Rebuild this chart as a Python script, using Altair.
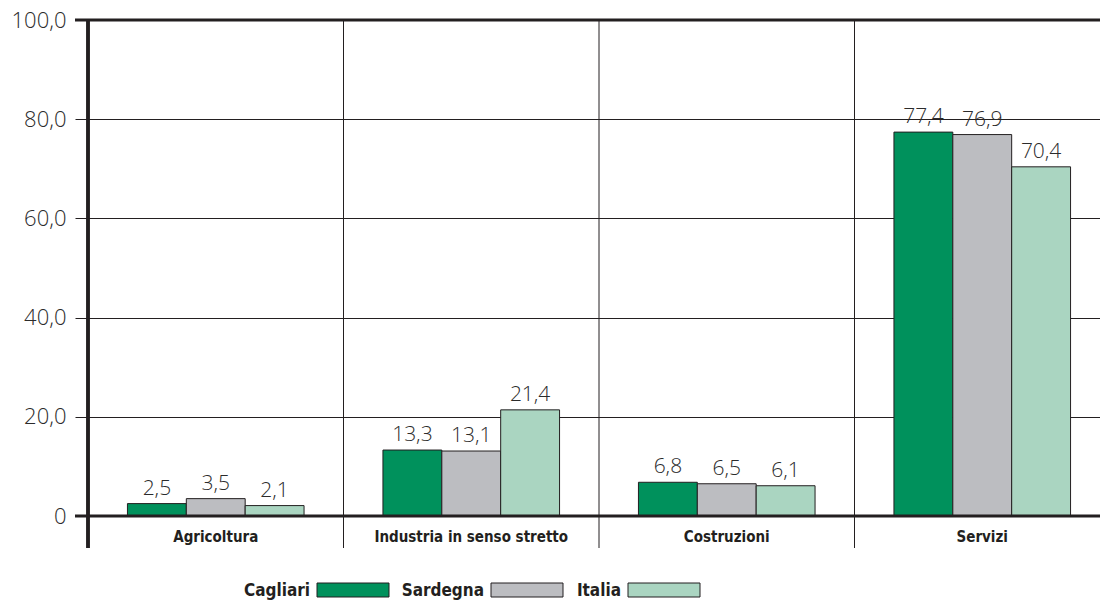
import altair as alt
import pandas as pd

# Employment share by sector (%)
categories = ["Agricoltura", "Industria in senso stretto", "Costruzioni", "Servizi"]
series = ["Cagliari", "Sardegna", "Italia"]
cagliari = [2.5, 13.3, 6.8, 77.4]
sardegna = [3.5, 13.1, 6.5, 76.9]
italia = [2.1, 21.4, 6.1, 70.4]
colors = ["#00915c", "#bcbdc1", "#aad5c1"]
y_ticks = [0, 20, 40, 60, 80, 100]

rows = []
for s, vals in zip(series, [cagliari, sardegna, italia]):
    for c, v in zip(categories, vals):
        rows.append({"settore": c, "area": s, "valore": v})
df = pd.DataFrame(rows)
cat_df = pd.DataFrame({"settore": categories})

W, H = 1012, 496
INK = "#231f20"
TEXT = "#2b2b2b"
LIGHT_FONT = "Open Sans"
COND_FONT = "DejaVu Sans Condensed, DejaVu Sans"

x_scale = alt.Scale(domain=categories, range=[0, 1022], paddingInner=0, paddingOuter=0)
y_scale = alt.Scale(domain=[0, 100], nice=False)

base = alt.Chart(df)

bars = base.mark_bar(stroke=INK, strokeWidth=1).encode(
    x=alt.X("settore:N", scale=x_scale, sort=categories, title=None,
            axis=alt.Axis(labelFont=COND_FONT, labelFontWeight="bold", labelFontSize=15,
                          labelColor=INK, ticks=False, domain=False, labelPadding=13,
                          labelAngle=0, labelBaseline="top", labelLimit=0)),
    xOffset=alt.XOffset("area:N", sort=series,
                        scale=alt.Scale(domain=series, paddingInner=0, paddingOuter=0.67)),
    y=alt.Y("valore:Q", scale=y_scale, title=None,
            axis=alt.Axis(values=y_ticks, grid=True, gridColor=INK, gridWidth=1,
                          domain=False, tickSize=13, tickColor=INK, tickWidth=1,
                          labelFont=LIGHT_FONT, labelFontWeight=300, labelFontSize=22,
                          labelColor=TEXT, labelPadding=9,
                          labelExpr="datum.value == 0 ? '0' : replace(format(datum.value, '.1f'), '.', ',')")),
    color=alt.Color("area:N", scale=alt.Scale(domain=series, range=colors), legend=None),
)

labels = base.transform_calculate(
    lab="replace(format(datum.valore, '.1f'), '.', ',')"
).mark_text(font=LIGHT_FONT, fontWeight=300, fontSize=21, color=TEXT,
            baseline="bottom", dy=-5).encode(
    x=alt.X("settore:N", scale=x_scale, sort=categories),
    xOffset=alt.XOffset("area:N", sort=series),
    y=alt.Y("valore:Q", scale=y_scale),
    text="lab:N",
)

# category separators extending below the baseline
separators = alt.Chart(cat_df).mark_rule(color=INK, strokeWidth=1).encode(
    x=alt.X("settore:N", scale=x_scale, sort=categories, bandPosition=0),
    y=alt.value(0),
    y2=alt.value(528),
)

left_axis = alt.Chart(cat_df).mark_rule(color=INK, strokeWidth=3).encode(
    x=alt.value(0), y=alt.value(0), y2=alt.value(528)
)

heavy_lines = alt.Chart(pd.DataFrame({"v": [0, 100]})).mark_rule(color=INK, strokeWidth=3).encode(
    y=alt.Y("v:Q", scale=y_scale),
    x=alt.value(-13),
    x2=alt.value(W),
)

# legend: label to the left of each swatch
legend_swatch_x = [229, 403, 540]
SW_W, SW_H, LEG_Y = 72, 14, 570
legend_layers = []
leg_df = pd.DataFrame({"area": series})
for s, sx in zip(series, legend_swatch_x):
    one = alt.Chart(leg_df).transform_filter(alt.datum.area == s)
    legend_layers.append(
        one.mark_rect(stroke=INK, strokeWidth=1).encode(
            x=alt.value(sx), x2=alt.value(sx + SW_W),
            y=alt.value(LEG_Y - SW_H / 2), y2=alt.value(LEG_Y + SW_H / 2),
            color=alt.Color("area:N", scale=alt.Scale(domain=series, range=colors), legend=None),
        )
    )
    legend_layers.append(
        one.mark_text(font=COND_FONT, fontWeight="bold", fontSize=17, color=INK,
                      align="right", baseline="middle").encode(
            x=alt.value(sx - 7), y=alt.value(LEG_Y + 1), text="area:N"
        )
    )

chart = alt.layer(
    bars, labels, separators, heavy_lines, left_axis, *legend_layers
).properties(
    width=W, height=H,
    autosize=alt.AutoSizeParams(type="none"),
    padding={"left": 88, "top": 20, "right": 0, "bottom": 86},
).configure_view(stroke=None).configure(background="white")

chart.save("out.html", embed_options={"renderer": "svg", "actions": False})
